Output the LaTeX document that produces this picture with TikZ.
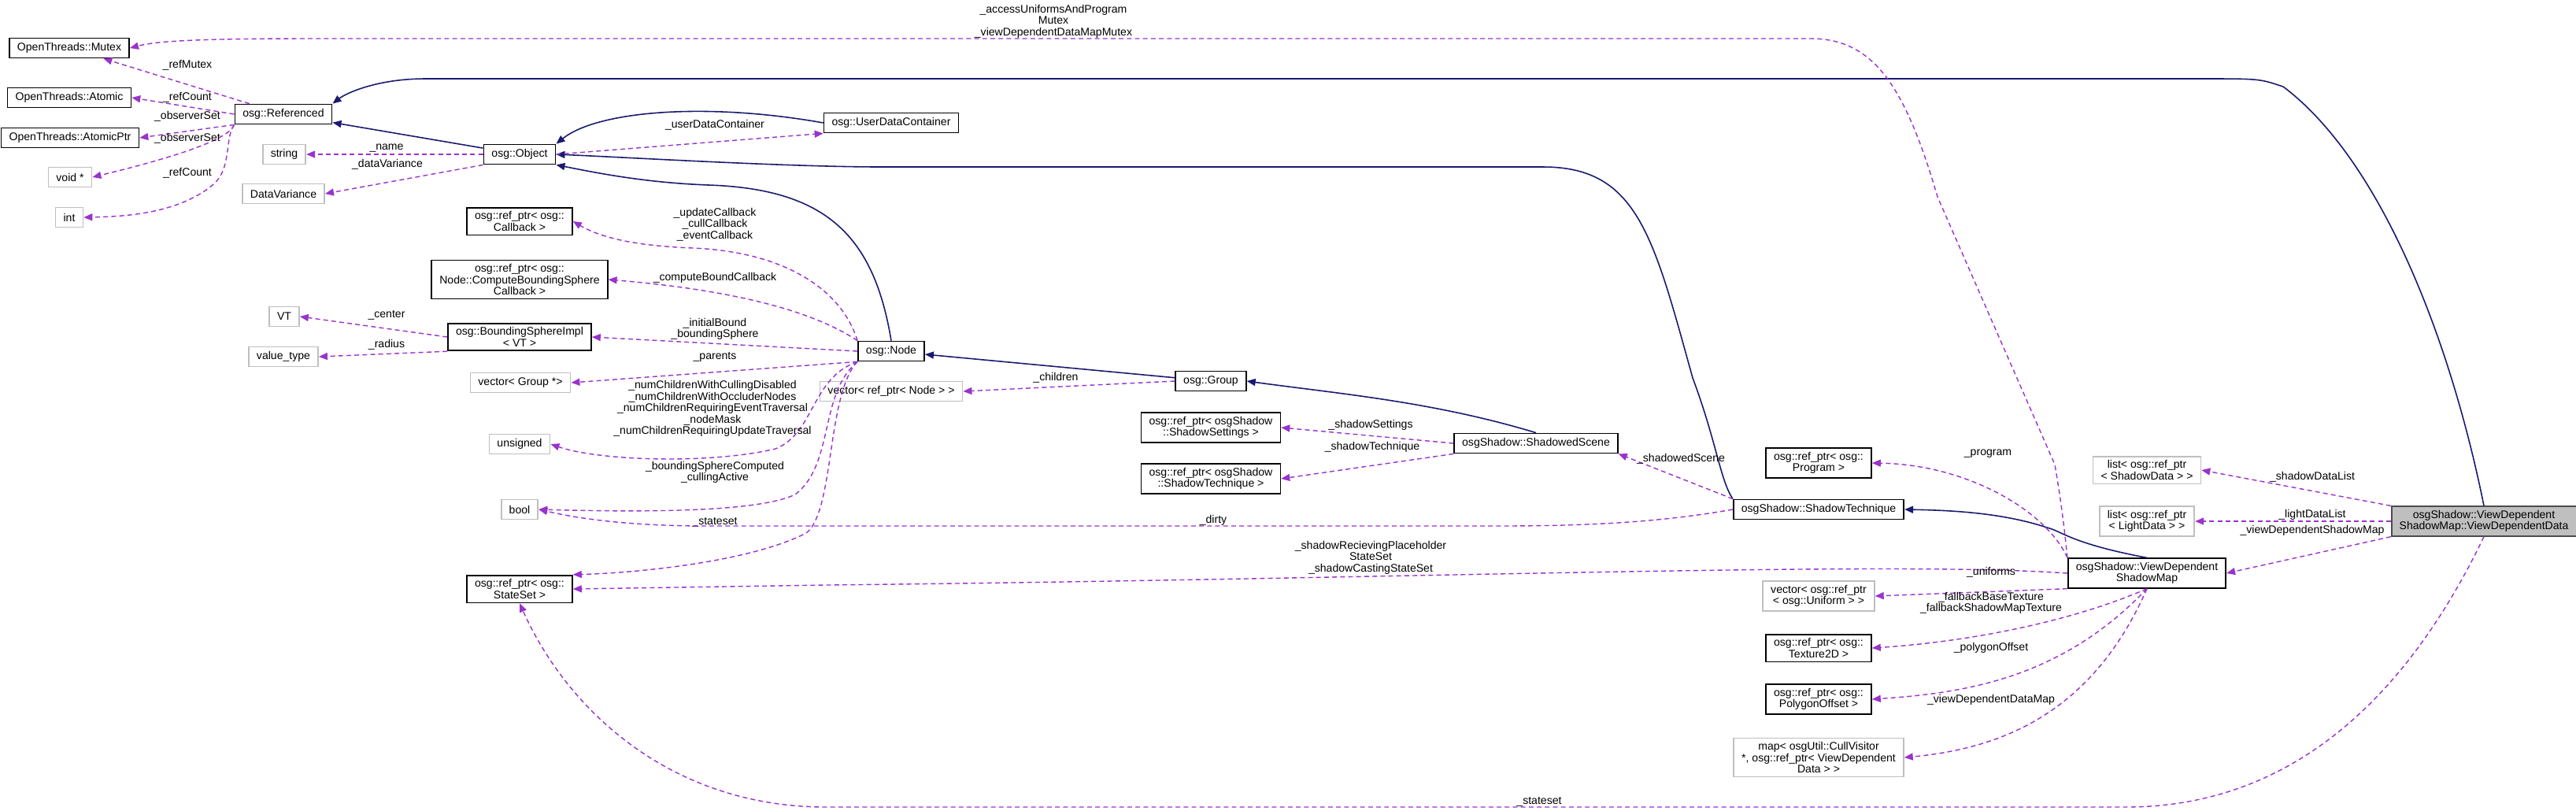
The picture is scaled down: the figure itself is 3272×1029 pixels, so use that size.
\documentclass[tikz,border=0pt]{standalone}
\usepackage{fontspec}
\setmainfont{Liberation Sans}
\usetikzlibrary{arrows.meta}
\definecolor{memcol}{HTML}{9A32CD}
\definecolor{inhcol}{HTML}{191970}
\definecolor{extcol}{HTML}{BFBFBF}
\begin{document}
\begin{tikzpicture}[x=0.01cm,y=-0.01cm,
  cls/.style={draw=black,line width=0.5pt,fill=white,font=\fontsize{4}{4.1}\selectfont,align=center,inner xsep=0.1cm,inner ysep=0.05cm,minimum height=0.25cm},
  ext/.style={cls,draw=extcol},
  mainbox/.style={cls,fill=extcol,draw=black!70},
  member/.style={memcol,dash pattern=on 1.7pt off 1.2pt,line width=0.4pt,-{Triangle[length=0.11cm,width=0.09cm]}},
  derived/.style={inhcol,line width=0.45pt,-{Triangle[length=0.11cm,width=0.09cm]}},
  lbl/.style={text=black,font=\fontsize{4}{4.1}\selectfont,align=center,inner sep=0pt}]
  \useasboundingbox (0,0) rectangle (3272,1029);

  % left column
  \node[cls] (mutex) at (88,61) {OpenThreads::Mutex};
  \node[cls] (atomic) at (88,124) {OpenThreads::Atomic};
  \node[cls] (atomicptr) at (89,175) {OpenThreads::AtomicPtr};
  \node[ext] (voidp) at (89,225) {void *};
  \node[ext] (intt) at (88,276) {int};
  \node[cls] (ref) at (360,145) {osg::Referenced};
  \node[ext] (str) at (361,196) {string};
  \node[ext] (dvar) at (360,246) {DataVariance};
  \node[ext] (vt) at (361,402) {VT};
  \node[ext] (vtype) at (360,453) {value\_type};

  % osg column
  \node[cls] (obj) at (660,196) {osg::Object};
  \node[cls] (cb) at (660,281) {osg::ref\_ptr< osg::\\Callback >};
  \node[cls] (cbs) at (660,355) {osg::ref\_ptr< osg::\\Node::ComputeBoundingSphere\\Callback >};
  \node[cls] (bsi) at (660,428) {osg::BoundingSphereImpl\\< VT >};
  \node[ext] (vgrp) at (661,486) {vector< Group *>};
  \node[ext] (uns) at (660,564) {unsigned};
  \node[ext] (bool) at (660,647) {bool};
  \node[cls] (sset) at (660,748) {osg::ref\_ptr< osg::\\StateSet >};
  \node[cls] (udc) at (1132,156) {osg::UserDataContainer};
  \node[cls] (nd) at (1132,446) {osg::Node};
  \node[ext] (vnode) at (1132,497) {vector< ref\_ptr< Node > >};
  \node[cls] (grp) at (1538,484) {osg::Group};

  % osgShadow
  \node[cls] (settings) at (1538,543) {osg::ref\_ptr< osgShadow\\::ShadowSettings >};
  \node[cls] (techptr) at (1538,608) {osg::ref\_ptr< osgShadow\\::ShadowTechnique >};
  \node[cls] (scene) at (1951,563) {osgShadow::ShadowedScene};
  \node[cls] (prog) at (2310,588) {osg::ref\_ptr< osg::\\Program >};
  \node[cls] (tech) at (2310,647) {osgShadow::ShadowTechnique};
  \node[ext] (unif) at (2310,757) {vector< osg::ref\_ptr\\< osg::Uniform > >};
  \node[cls] (tex) at (2310,823) {osg::ref\_ptr< osg::\\Texture2D >};
  \node[cls] (poly) at (2310,888) {osg::ref\_ptr< osg::\\PolygonOffset >};
  \node[ext] (vmap) at (2310,962) {map< osgUtil::CullVisitor\\ *, osg::ref\_ptr< ViewDependent\\Data > >};
  \node[ext] (sdlist) at (2727,597) {list< osg::ref\_ptr\\< ShadowData > >};
  \node[ext] (ldlist) at (2727,662) {list< osg::ref\_ptr\\< LightData > >};
  \node[cls] (vdsm) at (2727,728) {osgShadow::ViewDependent\\ShadowMap};
  \node[mainbox] (vdd) at (3155,662) {osgShadow::ViewDependent\\ShadowMap::ViewDependentData};

  % inheritance
  \draw[derived] (obj) -- (ref);
  \draw[derived] (udc.west) .. controls (900,130) and (760,140) .. (obj.north east);
  \draw[derived] (nd.north) .. controls (1110,300) and (1050,240) .. (900,235) .. controls (820,232) and (760,220) .. (obj.south east);
  \draw[derived] (grp) -- (nd);
  \draw[derived] (scene.north) .. controls (1820,510) and (1700,500) .. (grp.east);
  \draw[derived] (tech.north west) .. controls (2185,610) and (2180,560) .. (2150,480) .. controls (2100,300) and (2080,212) .. (1960,212) -- (1120,212) .. controls (1000,212) and (800,200) .. (obj.east);
  \draw[derived] (vdsm.north) .. controls (2630,690) and (2620,675) .. (2600,670) .. controls (2540,650) and (2470,648) .. (tech.east);
  \draw[derived] (vdd.north) .. controls (3110,420) and (3020,200) .. (2900,110) .. controls (2870,100) .. (2800,100) -- (540,100) .. controls (480,100) and (440,118) .. (ref.north east);

  % members
  \draw[member] (vdsm.north west) .. controls (2620,650) and (2615,620) .. (2610,590) -- (2461,250) .. controls (2420,110) and (2380,49) .. (2300,49) -- (400,49) .. controls (250,49) and (200,52) .. (mutex.east)
    node[lbl,at={(1338,27)}] {\_accessUniformsAndProgram\\Mutex\\\_viewDependentDataMapMutex};
  \draw[member] (vdsm.north west) .. controls (2600,650) and (2500,590) .. (prog.east) node[lbl,at={(2525,576)}] {\_program};
  \draw[member] (ref) -- (mutex) node[lbl,at={(238,83)}] {\_refMutex};
  \draw[member] (ref.west) -- (atomic.east) node[lbl,at={(238,124)}] {\_refCount};
  \draw[member] (ref.south west) -- (atomicptr.east) node[lbl,at={(238,148)}] {\_observerSet};
  \draw[member] (ref.south west) .. controls (290,180) and (200,205) .. (voidp.east) node[lbl,at={(238,176)}] {\_observerSet};
  \draw[member] (ref.south west) .. controls (285,175) and (295,215) .. (270,235) .. controls (230,268) and (170,275) .. (intt.east) node[lbl,at={(238,220)}] {\_refCount};
  \draw[member] (obj.west) -- (str.east) node[lbl,at={(491,188)}] {\_name};
  \draw[member] (obj.south west) -- (dvar.east) node[lbl,at={(492,209)}] {\_dataVariance};
  \draw[member] (obj.east) -- (udc.south west) node[lbl,at={(908,159)}] {\_userDataContainer};
  \draw[member] (bsi.west) -- (vt.east) node[lbl,at={(491,400)}] {\_center};
  \draw[member] (bsi.south west) -- (vtype.east) node[lbl,at={(491,438)}] {\_radius};
  \draw[member] (nd.north west) .. controls (1070,370) and (1000,320) .. (880,315) .. controls (800,312) and (760,300) .. (cb.east) node[lbl,at={(908,285)}] {\_updateCallback\\\_cullCallback\\\_eventCallback};
  \draw[member] (nd.north west) .. controls (1040,400) and (950,370) .. (cbs.east) node[lbl,at={(908,353)}] {\_computeBoundCallback};
  \draw[member] (nd.west) -- (bsi.east) node[lbl,at={(908,418)}] {\_initialBound\\\_boundingSphere};
  \draw[member] (nd.south west) -- (vgrp.east) node[lbl,at={(908,453)}] {\_parents};
  \draw[member] (nd.south west) .. controls (1030,480) and (1035,550) .. (985,570) .. controls (900,590) and (760,585) .. (uns.east) node[lbl,at={(905,519)}] {\_numChildrenWithCullingDisabled\\\_numChildrenWithOccluderNodes\\\_numChildrenRequiringEventTraversal\\\_nodeMask\\\_numChildrenRequiringUpdateTraversal};
  \draw[member] (nd.south west) .. controls (1040,500) and (1060,590) .. (1010,628) .. controls (960,652) and (800,650) .. (bool.east) node[lbl,at={(908,600)}] {\_boundingSphereComputed\\\_cullingActive};
  \draw[member] (nd.south west) .. controls (1050,500) and (1060,650) .. (1024,677) .. controls (950,715) and (800,728) .. (sset.north east) node[lbl,at={(908,663)}] {\_stateset};
  \draw[member] (grp.west) -- (vnode.east) node[lbl,at={(1341,480)}] {\_children};
  \draw[member] (scene.west) -- (settings.east) node[lbl,at={(1741,540)}] {\_shadowSettings};
  \draw[member] (scene.south west) -- (techptr.east) node[lbl,at={(1743,568)}] {\_shadowTechnique};
  \draw[member] (tech.north west) -- (scene.south east) node[lbl,at={(2135,583)}] {\_shadowedScene};
  \draw[member] (tech.west) .. controls (2100,665) and (2000,668) .. (1900,668) -- (900,668) .. controls (780,668) and (720,655) .. (bool.east) node[lbl,at={(1541,661)}] {\_dirty};
  \draw[member] (vdsm.west) .. controls (2400,712) and (1800,735) .. (1050,743) -- (sset.east) node[lbl,at={(1741,708)}] {\_shadowRecievingPlaceholder\\StateSet\\\_shadowCastingStateSet};
  \draw[member] (vdsm.south west) -- (unif.east) node[lbl,at={(2529,727)}] {\_uniforms};
  \draw[member] (vdsm.south) .. controls (2630,790) and (2500,815) .. (tex.east) node[lbl,at={(2529,766)}] {\_fallbackBaseTexture\\\_fallbackShadowMapTexture};
  \draw[member] (vdsm.south) .. controls (2620,860) and (2500,880) .. (poly.east) node[lbl,at={(2529,823)}] {\_polygonOffset};
  \draw[member] (vdsm.south) .. controls (2660,900) and (2550,950) .. (vmap.east) node[lbl,at={(2529,889)}] {\_viewDependentDataMap};
  \draw[member] (vdd.north west) -- (sdlist.east) node[lbl,at={(2937,606)}] {\_shadowDataList};
  \draw[member] (vdd.west) -- (ldlist.east) node[lbl,at={(2937,654)}] {\_lightDataList};
  \draw[member] (vdd.south west) -- (vdsm.east) node[lbl,at={(2937,674)}] {\_viewDependentShadowMap};
  \draw[member] (vdd.south) .. controls (3050,900) and (2900,1025) .. (2700,1025) -- (1050,1025) .. controls (850,1025) and (720,900) .. (sset.south) node[lbl,at={(1955,1018)}] {\_stateset};
\end{tikzpicture}
\end{document}
